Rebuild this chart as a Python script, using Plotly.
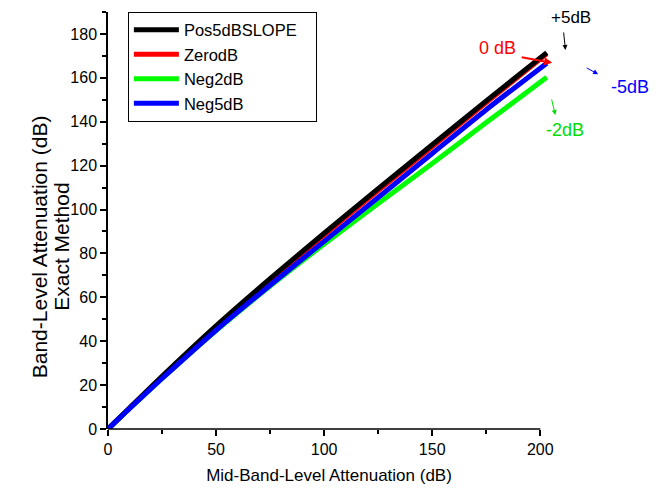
import plotly.graph_objects as go

# Mid-band-level attenuation (dB)
x_mid = [0, 10, 25, 50, 75, 100, 125, 150, 175, 203]
# Band-level attenuation, exact method (dB)
pos5db = [0, 9.6, 24.0, 47.0, 68.5, 89.2, 109.5, 129.5, 149.5, 171.5]
zerodb = [0, 9.5, 23.6, 46.3, 67.7, 88.3, 108.6, 128.6, 148.7, 171.0]
neg2db = [0, 9.4, 23.0, 44.8, 65.1, 84.3, 102.8, 121.0, 139.6, 160.3]
neg5db = [0, 9.4, 23.0, 45.0, 65.5, 85.5, 105.5, 125.5, 145.5, 166.7]

x_ticks = [0, 50, 100, 150, 200]
y_ticks = [0, 20, 40, 60, 80, 100, 120, 140, 160, 180]
x_axis_end = 200

FONT = "Liberation Sans, Arial, sans-serif"
NB = "\u00a0"

fig = go.Figure()
# draw order: red, green, black, blue (legend order set by legendrank)
line_shape = dict(shape="spline", smoothing=0.6)
fig.add_trace(go.Scatter(x=x_mid, y=zerodb, mode="lines", name="ZerodB",
                         line=dict(color="#ff0000", width=5, **line_shape), legendrank=2))
fig.add_trace(go.Scatter(x=x_mid, y=neg2db, mode="lines", name="Neg2dB",
                         line=dict(color="#00ff00", width=5, **line_shape), legendrank=3))
fig.add_trace(go.Scatter(x=x_mid, y=pos5db, mode="lines", name="Pos5dBSLOPE" + NB * 3,
                         line=dict(color="#000000", width=5, **line_shape), legendrank=1))
fig.add_trace(go.Scatter(x=x_mid, y=neg5db, mode="lines", name="Neg5dB",
                         line=dict(color="#0000ff", width=5, **line_shape), legendrank=4))

tick_common = dict(
    ticks="outside", ticklen=6, tickwidth=1.5, tickcolor="black",
    showgrid=False, zeroline=False, automargin=False,
    tickfont=dict(family=FONT, size=16, color="black"),
)

fig.update_xaxes(
    range=[0, 204.5], tickvals=x_ticks, showline=False,
    minor=dict(tickvals=[25, 75, 125, 175], ticks="outside", ticklen=4, tickwidth=1.5,
               tickcolor="black", showgrid=False),
    title=dict(text="Mid-Band-Level Attenuation (dB)",
               font=dict(family=FONT, size=17, color="black"), standoff=11),
    **tick_common,
)
fig.update_yaxes(
    range=[0, 190], tickvals=y_ticks, showline=True, linecolor="black", linewidth=1.5,
    minor=dict(dtick=10, tick0=0, ticks="outside", ticklen=4, tickwidth=1.5,
               tickcolor="black", showgrid=False),
    **tick_common,
)

# bottom axis line ends at the last tick (200), as in the original
fig.add_shape(type="line", xref="x", yref="paper", x0=0, x1=x_axis_end, y0=0, y1=0,
              line=dict(color="black", width=1.5), layer="above")

ann_font = dict(family=FONT, size=18)
ytitle_font = dict(family=FONT, size=21, color="black")


def label(x, y, text, color, size=18):
    return dict(xref="paper", yref="paper", x=x, y=y, text=text, showarrow=False,
                xanchor="center", yanchor="middle",
                font=dict(family=FONT, size=size, color=color))


def arrow(x, y, ax, ay, color, width=1, size=1):
    return dict(xref="paper", yref="paper", x=x, y=y, ax=ax, ay=ay, text="",
                showarrow=True, arrowhead=2, arrowsize=size, arrowwidth=width,
                arrowcolor=color, standoff=0, startstandoff=0)


annotations = [
    # y-axis title (two lines)
    dict(xref="paper", yref="paper", x=-0.155, y=0.437, text="Band-Level Attenuation (dB)",
         textangle=-90, showarrow=False, font=ytitle_font, xanchor="center", yanchor="middle"),
    dict(xref="paper", yref="paper", x=-0.104, y=0.437, text="Exact Method",
         textangle=-90, showarrow=False, font=ytitle_font, xanchor="center", yanchor="middle"),
    # curve labels
    label(1.048, 0.987, "+5dB", "black", 17),
    label(0.881, 0.914, "0 dB", "#ff0000"),
    label(1.182, 0.820, "-5dB", "#0000ff"),
    label(1.035, 0.717, "-2dB", "#00dd00"),
    # arrows: tip at (x, y), tail offset (ax, ay) in px
    arrow(1.035, 0.909, -2, -19, "black"),
    arrow(1.005, 0.878, -32, -6, "#ff0000", 2, 0.8),
    arrow(1.109, 0.851, -13, -7, "#0000ff"),
    arrow(1.012, 0.753, -4, -17, "#00dd00"),
]

fig.update_layout(
    width=663, height=493,
    margin=dict(l=100, r=121, t=4, b=72),
    paper_bgcolor="white", plot_bgcolor="white",
    font=dict(family=FONT, color="black"),
    showlegend=True,
    legend=dict(x=0.045, y=1.001, xanchor="left", yanchor="top",
                bgcolor="white", bordercolor="black", borderwidth=1,
                font=dict(family=FONT, size=16.5, color="black"),
                traceorder="normal", itemwidth=45, tracegroupgap=0),
    annotations=annotations,
)

fig.write_html("out.html")
